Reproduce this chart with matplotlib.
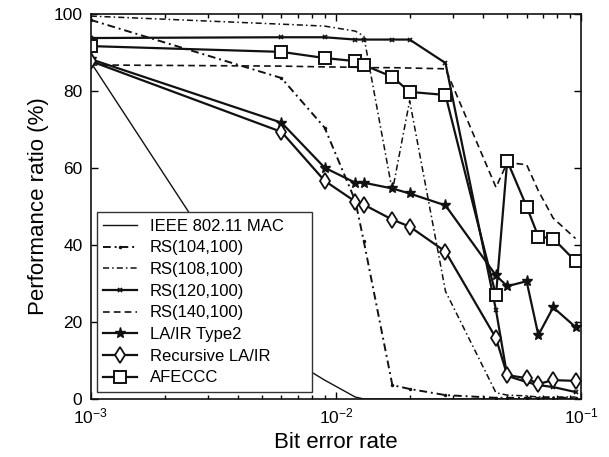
import matplotlib
matplotlib.use("Agg")
import matplotlib.pyplot as plt

plt.rcParams['font.family'] = ['Liberation Sans', 'DejaVu Sans']
plt.rcParams['mathtext.fontset'] = 'custom'
plt.rcParams['mathtext.rm'] = 'Liberation Sans'
plt.rcParams['mathtext.it'] = 'Liberation Sans'
plt.rcParams['mathtext.default'] = 'regular'

# bit error rates where each scheme was measured
ber = [0.001, 0.006, 0.009, 0.012, 0.013, 0.017, 0.02, 0.028,
       0.045, 0.05, 0.06, 0.067, 0.077, 0.095]

# performance ratio (%) per scheme
ieee = [87.5, 11.7, 4.9, 0.5, 0, 0, 0, 0, 0, 0, 0, 0, 0, 0]
rs104 = [98.5, 83.4, 70.5, 51.5, 41.0, 3.6, 2.6, 1.0, 0.3, 0.3, 0.3, 0.3, 0.3, 0.3]
rs108 = [99.5, 97.4, 96.9, 95.6, 94.3, 54.0, 77.5, 28.0, 1.6, 1.0, 0.8, 0.5, 0.5, 0.5]
rs120 = [93.8, 94.0, 94.0, 93.4, 93.4, 93.4, 93.4, 87.3, 23.1, 6.0, 4.4, 3.6, 3.1, 1.8]
rs140 = [86.8, 86.5, 86.3, 86.2, 86.1, 86.1, 86.0, 85.8, 55.0, 61.4, 60.9, 54.1, 47.0, 41.7]
lair2 = [88.3, 71.8, 60.1, 56.2, 56.2, 54.7, 53.4, 50.3, 32.1, 29.3, 30.6, 16.6, 23.8, 18.7]
rec_lair = [87.8, 69.4, 56.7, 51.3, 50.5, 46.6, 44.8, 38.3, 15.8, 6.2, 5.4, 3.9, 4.9, 4.7]
afeccc = [91.7, 90.2, 88.6, 87.8, 86.8, 83.7, 79.8, 79.0, 26.9, 61.9, 50.0, 42.2, 41.7, 35.8]

fig = plt.figure(figsize=(6.09, 4.57), dpi=100)
ax = fig.add_axes([0.149, 0.127, 0.805, 0.842])

k = '#111111'
ax.plot(ber, ieee, color=k, lw=1.0, label='IEEE 802.11 MAC')
ax.plot(ber, rs104, color=k, lw=1.4, dashes=(4, 2, 1, 2), marker='.', ms=3,
        label='RS(104,100)')
ax.plot(ber, rs108, color=k, lw=1.1, dashes=(4, 2, 1, 2), label='RS(108,100)')
ax.plot(ber, rs120, color=k, lw=1.6, marker='x', ms=3.5, mew=1.2,
        label='RS(120,100)')
ax.plot(ber, rs140, color=k, lw=1.2, dashes=(4, 2.5), label='RS(140,100)')
ax.plot(ber, lair2, color=k, lw=1.6, marker='*', ms=8, label='LA/IR Type2')
ax.plot(ber, rec_lair, color=k, lw=1.6, marker='d', ms=8, mfc='white',
        mew=1.3, label='Recursive LA/IR')
ax.plot(ber, afeccc, color=k, lw=1.6, marker='s', ms=8, mfc='white',
        mew=1.4, label='AFECCC')

ax.set_xscale('log')
ax.set_xlim(1e-3, 1e-1)
ax.set_ylim(0, 100)
ax.set_yticks([0, 20, 40, 60, 80, 100])

ax.tick_params(which='both', direction='in', top=True, right=True,
               labelsize=12.5, width=1.0)
ax.tick_params(which='major', length=5)
ax.tick_params(which='minor', length=3)
ax.tick_params(axis='x', pad=5.5)
ax.tick_params(axis='y', pad=6)
for s in ax.spines.values():
    s.set_linewidth(1.2)
    s.set_color(k)

ax.set_xlabel('Bit error rate', fontsize=16, labelpad=4)
ax.set_ylabel('Performance ratio (%)', fontsize=16, labelpad=3)

leg = ax.legend(loc='lower left', bbox_to_anchor=(0.012, 0.018, 0.439, 0.4),
                mode='expand', borderaxespad=0, fontsize=12, numpoints=1,
                handlelength=2.0, handletextpad=0.8, labelspacing=0.4,
                borderpad=0.4, fancybox=False, framealpha=1,
                edgecolor='#333333')
leg.get_frame().set_linewidth(1.0)

fig.savefig('out.png', dpi=100)
